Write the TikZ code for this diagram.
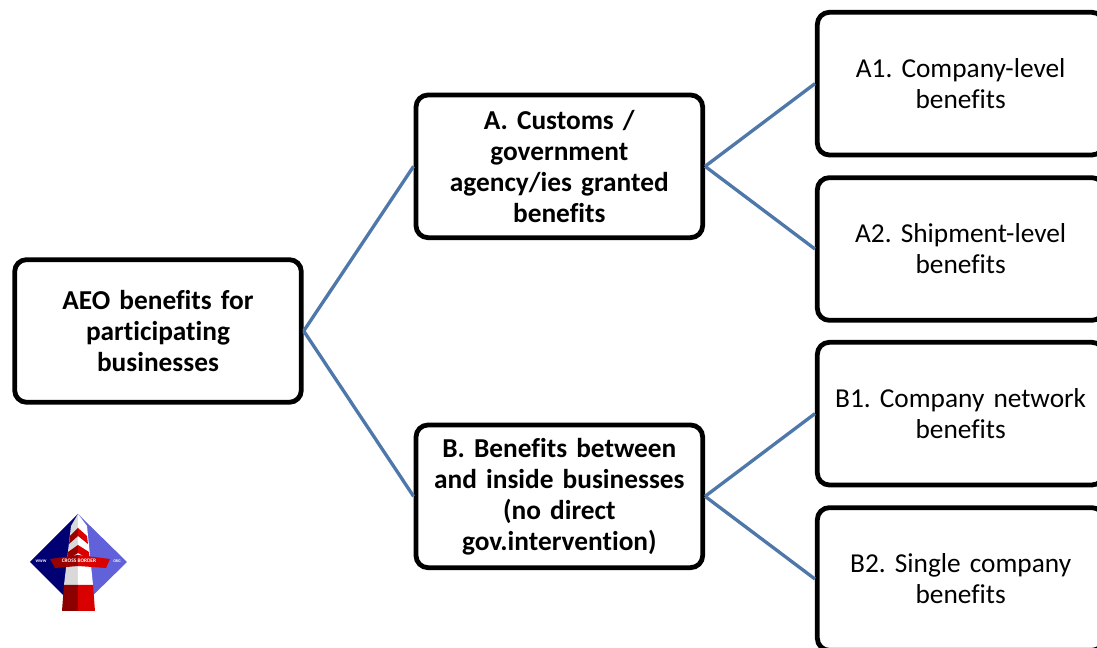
\documentclass[tikz,border=0pt]{standalone}
\usepackage{fontspec}
\setmainfont[Ligatures=NoCommon]{Carlito}
\frenchspacing

\begin{document}
\begin{tikzpicture}[node distance=301pt, every node/.style={align=center}, >=stealth]
    % styles
    \tikzstyle{mainbox} = [rectangle, rounded corners=9pt, draw=black, line width=3.6pt, fill=white, minimum width=215pt, minimum height=107pt, text width=205pt, font=\fontsize{20.5}{23.2}\selectfont\bfseries]
    \tikzstyle{subbox} = [mainbox, font=\fontsize{20.5}{23.2}\selectfont]
    \tikzstyle{link} = [line width=2.5pt, draw={rgb,255:red,79;green,120;blue,170}]

    \useasboundingbox (-118.5pt,-237.75pt) rectangle (704.25pt,248.25pt);

    % nodes
    \node[mainbox] (root) {AEO benefits for\\participating\\businesses};

    \node[mainbox, right of=root, yshift=123.5pt] (customs) {A. Customs /\\government\\agency/ies granted\\benefits};
    \node[mainbox, right of=root, yshift=-124pt] (business) {B. Benefits between\\and inside businesses\\(no direct\\gov.intervention)};

    \node[subbox, right of=customs, yshift=62pt] (companylevel) {A1. Company-level\\benefits};
    \node[subbox, right of=customs, yshift=-62pt] (shipment) {A2. Shipment-level\\benefits};
    \node[subbox, right of=business, yshift=62pt] (network) {B1. Company network\\benefits};
    \node[subbox, right of=business, yshift=-62pt] (single) {B2. Single company\\benefits};

    % connectors
    \draw[link] (root.east) -- (customs.west);
    \draw[link] (root.east) -- (business.west);
    \draw[link] (customs.east) -- (companylevel.west);
    \draw[link] (customs.east) -- (shipment.west);
    \draw[link] (business.east) -- (network.west);
    \draw[link] (business.east) -- (single.west);

    % logo
    \begin{scope}[shift={(-118.5pt,248.25pt)}, x=0.75pt, y=-0.75pt]
        \fill[blue!45!black] (78,514) -- (30,562) -- (78,610) -- cycle;
        \fill[blue!55!white!85!black] (78,514) -- (127,562) -- (78,610) -- cycle;
        \fill[white!85!black] (71,526) -- (78,514) -- (78,585) -- (64,585) -- cycle;
        \fill[white] (78,514) -- (87,526) -- (93,585) -- (78,585) -- cycle;
        \fill[red!55!black] (62,611) -- (64,585) -- (78,585) -- (78,611) -- cycle;
        \fill[red!85!black] (78,585) -- (93,585) -- (95,611) -- (78,611) -- cycle;
        \fill[red!60!black] (70,536) -- (78,528) -- (78,536) -- (69,544) -- cycle;
        \fill[red!85!black] (78,528) -- (87,536) -- (88,544) -- (78,536) -- cycle;
        \fill[red!60!black] (68,552) -- (78,545) -- (78,553) -- (67,560) -- cycle;
        \fill[red!85!black] (78,545) -- (89,552) -- (90,560) -- (78,553) -- cycle;
        \fill[red!60!black] (50,559) -- (78,555) -- (78,566) -- (55,568) -- cycle;
        \fill[red!85!black] (78,555) -- (110,559) -- (106,568) -- (78,566) -- cycle;
        \node[text=white, font=\fontsize{4}{4}\bfseries\selectfont, inner sep=0pt] (logotext) at (79,561) {CROSS BORDER};
        \node[text=white, font=\fontsize{3}{4}\bfseries\selectfont, inner sep=0pt] (logowww) at (41,561) {WWW};
        \node[text=white, font=\fontsize{3}{4}\bfseries\selectfont, inner sep=0pt] (logoorg) at (117,561) {ORG};
    \end{scope}
\end{tikzpicture}
\end{document}
